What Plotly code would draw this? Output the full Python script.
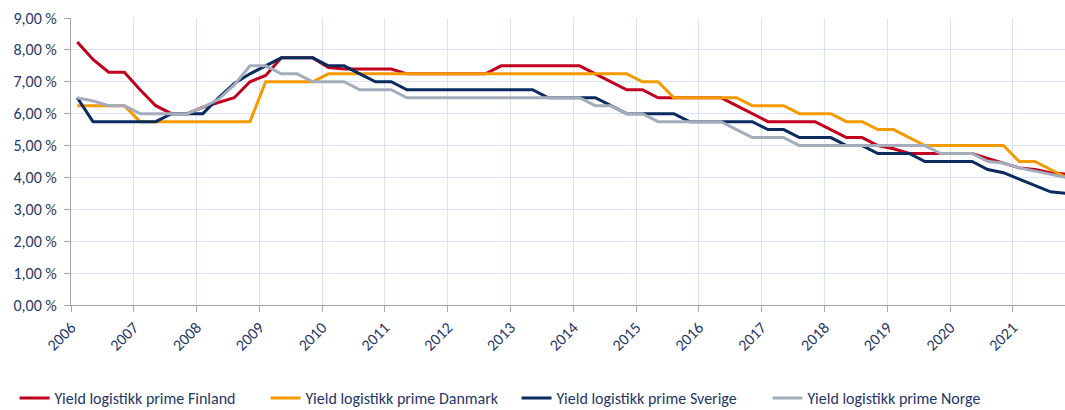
import plotly.graph_objects as go

# Quarterly observations, 2006 to end of 2021 (64 quarters)
n_quarters = 64
quarters = [2006.1 + 0.25 * i for i in range(n_quarters)]

finland = [8.25, 7.7, 7.3, 7.3, 6.75, 6.25, 6.0, 6.0, 6.2, 6.35,
           6.5, 7.0, 7.2, 7.75, 7.75, 7.75, 7.45, 7.4, 7.4, 7.4,
           7.4, 7.25, 7.25, 7.25, 7.25, 7.25, 7.25, 7.5, 7.5, 7.5,
           7.5, 7.5, 7.5, 7.25, 7.0, 6.75, 6.75, 6.5, 6.5, 6.5,
           6.5, 6.5, 6.25, 6.0, 5.75, 5.75, 5.75, 5.75, 5.5, 5.25,
           5.25, 5.0, 4.9, 4.75, 4.75, 4.75, 4.75, 4.75, 4.6, 4.45,
           4.3, 4.25, 4.15, 4.1]

danmark = [6.25, 6.25, 6.25, 6.25, 5.75, 5.75, 5.75, 5.75, 5.75, 5.75,
           5.75, 5.75, 7.0, 7.0, 7.0, 7.0, 7.25, 7.25, 7.25, 7.25,
           7.25, 7.25, 7.25, 7.25, 7.25, 7.25, 7.25, 7.25, 7.25, 7.25,
           7.25, 7.25, 7.25, 7.25, 7.25, 7.25, 7.0, 7.0, 6.5, 6.5,
           6.5, 6.5, 6.5, 6.25, 6.25, 6.25, 6.0, 6.0, 6.0, 5.75,
           5.75, 5.5, 5.5, 5.25, 5.0, 5.0, 5.0, 5.0, 5.0, 5.0,
           4.5, 4.5, 4.25, 4.0]

sverige = [6.5, 5.75, 5.75, 5.75, 5.75, 5.75, 6.0, 6.0, 6.0, 6.5,
           6.95, 7.25, 7.5, 7.75, 7.75, 7.75, 7.5, 7.5, 7.25, 7.0,
           7.0, 6.75, 6.75, 6.75, 6.75, 6.75, 6.75, 6.75, 6.75, 6.75,
           6.5, 6.5, 6.5, 6.5, 6.25, 6.0, 6.0, 6.0, 6.0, 5.75,
           5.75, 5.75, 5.75, 5.75, 5.5, 5.5, 5.25, 5.25, 5.25, 5.0,
           5.0, 4.75, 4.75, 4.75, 4.5, 4.5, 4.5, 4.5, 4.25, 4.15,
           3.95, 3.75, 3.55, 3.5]

norge = [6.5, 6.4, 6.25, 6.25, 6.0, 6.0, 6.0, 6.0, 6.2, 6.45,
         6.9, 7.5, 7.5, 7.25, 7.25, 7.0, 7.0, 7.0, 6.75, 6.75,
         6.75, 6.5, 6.5, 6.5, 6.5, 6.5, 6.5, 6.5, 6.5, 6.5,
         6.5, 6.5, 6.5, 6.25, 6.25, 6.0, 6.0, 5.75, 5.75, 5.75,
         5.75, 5.75, 5.5, 5.25, 5.25, 5.25, 5.0, 5.0, 5.0, 5.0,
         5.0, 5.0, 5.0, 5.0, 5.0, 4.75, 4.75, 4.75, 4.5, 4.45,
         4.3, 4.2, 4.1, 4.0]

series_names = ["Yield logistikk prime Finland", "Yield logistikk prime Danmark",
                "Yield logistikk prime Sverige", "Yield logistikk prime Norge"]
series_values = [finland, danmark, sverige, norge]
series_colors = ["#C0001E", "#F59A00", "#0A2B5E", "#A5ADBD"]

year_ticks = list(range(2006, 2022))
year_labels = [str(y) for y in year_ticks]
y_ticks = list(range(0, 10))
y_labels = [f"{v},00 %" for v in y_ticks]

font_family = "Carlito, Calibri, Liberation Sans, Arial, sans-serif"
text_color = "#1F3768"
grid_color = "#D9E5F6"
axis_color = "#A6A6A6"

fig = go.Figure()
for name, vals, col in zip(series_names, series_values, series_colors):
    fig.add_trace(go.Scatter(x=quarters, y=vals, mode="lines", name=name,
                             line=dict(color=col, width=3)))

fig.update_layout(
    width=1065, height=410,
    margin=dict(l=71, r=0, t=18, b=105, autoexpand=False),
    paper_bgcolor="white", plot_bgcolor="white",
    font=dict(family=font_family, size=16, color=text_color),
    showlegend=True,
    legend=dict(orientation="h", xref="paper", yref="paper",
                x=-0.0568, y=-0.324, xanchor="left", yanchor="middle",
                entrywidth=206, entrywidthmode="pixels",
                font=dict(size=16, color=text_color), itemwidth=30),
)
fig.update_xaxes(range=[2006, 2021.83], tickvals=year_ticks, ticktext=year_labels,
                 tickangle=-45, showgrid=True, gridcolor=grid_color, gridwidth=1,
                 showline=True, linecolor=axis_color, linewidth=1,
                 ticks="outside", ticklen=6, tickcolor=axis_color,
                 zeroline=False, tickfont=dict(size=16, color=text_color))
fig.update_yaxes(range=[0, 9], tickvals=y_ticks, ticktext=y_labels,
                 showgrid=True, gridcolor=grid_color, gridwidth=1,
                 showline=True, linecolor=axis_color, linewidth=1,
                 ticks="outside", ticklen=6, tickcolor=axis_color,
                 ticklabelstandoff=4,
                 zeroline=False, tickfont=dict(size=16, color=text_color))

fig.write_html("out.html", config={"displayModeBar": False},
               post_script="document.body.style.margin='0';")
